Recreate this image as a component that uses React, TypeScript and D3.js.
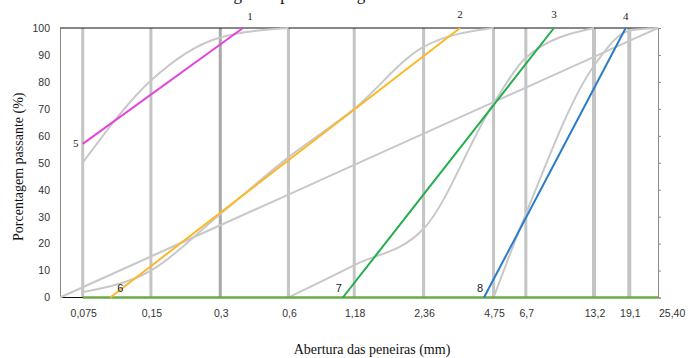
import React, { useEffect, useRef } from "react";
import * as d3 from "d3";

// sieve openings (mm), as printed under the chart
const sieves = ["0,075", "0,15", "0,3", "0,6", "1,18", "2,36", "4,75", "6,7", "13,2", "19,1", "25,40"];
// reference grading (% passing) - in a Rothfuchs diagram this fixes each sieve's place on the x axis
const referencePassing = [3.8, 15.2, 26.8, 38.2, 49.2, 60.8, 72.5, 77.9, 89.3, 95.2, 100];
const yTicks = [0, 10, 20, 30, 40, 50, 60, 70, 80, 90, 100];

// grading curves of the four aggregates (% passing per sieve, null = not plotted)
const material1 = [50, 80.5, 96.5, 100, null, null, null, null, null, null, null];
const material2 = [2, 10, 31, 52, 70, 93, 100, null, null, null, null];
const material3 = [null, null, null, 0, 12, 25.5, 72, 89, 100, null, null];
const material4 = [null, null, null, null, null, null, 0, 31, 86, 99, 100];

// balance lines: start / end on the reference axis (%), with their passing values
const balanceLines = [
  { key: "1", start: "5", x0: 3.8, y0: 57, x1: 30.6, y1: 100, color: "#e444dc" },
  { key: "2", start: "6", x0: 8.4, y0: 0, x1: 66.9, y1: 100, color: "#fbb928" },
  { key: "3", start: "7", x0: 47.3, y0: 0, x1: 82.6, y1: 100, color: "#22ad4e" },
  { key: "4", start: "8", x0: 70.9, y0: 0, x1: 94.6, y1: 100, color: "#2a7bc8" },
];

const W = 689;
const H = 358;
const margin = { top: 28, right: 31, bottom: 60.5, left: 60 };

const App = () => {
  const svgRef = useRef<SVGSVGElement>(null);

  useEffect(() => {
    const svg = d3.select(svgRef.current);
    svg.selectAll("*").remove();

    const x = d3.scaleLinear().domain([0, 100]).range([margin.left, W - margin.right]);
    const y = d3.scaleLinear().domain([0, 100]).range([H - margin.bottom, margin.top]);

    // title (cut off at the top of the figure, as in the scan)
    svg.append("text")
      .attr("x", 209)
      .attr("y", 0)
      .attr("font-family", "Liberation Serif, Times New Roman, serif")
      .attr("font-size", 17)
      .attr("fill", "#111")
      .text("Diagrama para a dosagem");

    // sieve lines
    svg.append("g")
      .selectAll("line")
      .data(sieves.slice(0, -1))
      .join("line")
      .attr("x1", (d, i) => x(referencePassing[i]))
      .attr("x2", (d, i) => x(referencePassing[i]))
      .attr("y1", y(100))
      .attr("y2", y(0))
      .attr("stroke", d => (d === "0,3" ? "#a8a8a8" : "#c4c4c4"))
      .attr("stroke-width", d => (d === "13,2" || d === "19,1" ? 4 : 3));

    // left axis
    const yAxis = svg.append("g")
      .attr("transform", `translate(${margin.left},0)`)
      .call(d3.axisLeft(y).tickValues(yTicks).tickSize(0).tickPadding(10));
    yAxis.select(".domain").attr("stroke", "#8a8a8a");
    yAxis.selectAll("text")
      .attr("font-family", "Liberation Sans, Arial, sans-serif")
      .attr("font-size", 10.5)
      .attr("fill", "#333");

    // right axis (ticks only)
    const rAxis = svg.append("g")
      .attr("transform", `translate(${W - margin.right},0)`)
      .call(d3.axisRight(y).tickValues(yTicks).tickSize(3).tickFormat(() => ""));
    rAxis.select(".domain").attr("stroke", "#8a8a8a");
    rAxis.selectAll("line").attr("stroke", "#8a8a8a");

    // top border
    svg.append("line")
      .attr("x1", x(0)).attr("x2", x(100))
      .attr("y1", y(100)).attr("y2", y(100))
      .attr("stroke", "#111").attr("stroke-width", 1);

    // bottom axis
    svg.append("line")
      .attr("x1", x(0)).attr("x2", x(100))
      .attr("y1", y(0)).attr("y2", y(0))
      .attr("stroke", "#111").attr("stroke-width", 1);

    svg.append("g")
      .selectAll("text")
      .data(sieves)
      .join("text")
      .attr("x", (d, i) => x(referencePassing[i]) + 1)
      .attr("y", 317)
      .attr("text-anchor", (d, i) => (i === sieves.length - 1 ? "start" : "middle"))
      .attr("font-family", "Liberation Sans, Arial, sans-serif")
      .attr("font-size", 10.5)
      .attr("fill", "#333")
      .text(d => d);

    // grading curves
    const curveLine = d3.line<[number, number | null]>()
      .defined(d => d[1] !== null)
      .x(d => x(d[0]))
      .y(d => y(d[1] as number))
      .curve(d3.curveMonotoneX);

    const curves = [material1, material2, material3, material4].map(m =>
      m.map((v, i) => [referencePassing[i], v] as [number, number | null])
    );
    svg.append("g")
      .selectAll("path")
      .data(curves)
      .join("path")
      .attr("d", d => curveLine(d))
      .attr("fill", "none")
      .attr("stroke", "#c8c8c8")
      .attr("stroke-width", 2);

    // reference grading (straight diagonal)
    svg.append("path")
      .attr("d", d3.line<number>().x(d => x(d)).y(d => y(d))([0, ...referencePassing]))
      .attr("fill", "none")
      .attr("stroke", "#c8c8c8")
      .attr("stroke-width", 2);

    // green base line from the first sieve
    svg.append("line")
      .attr("x1", x(referencePassing[0])).attr("x2", x(100))
      .attr("y1", y(0)).attr("y2", y(0))
      .attr("stroke", "#6aab45").attr("stroke-width", 2.5);

    // balance lines
    svg.append("g")
      .selectAll("line")
      .data(balanceLines)
      .join("line")
      .attr("x1", d => x(d.x0)).attr("y1", d => y(d.y0))
      .attr("x2", d => x(d.x1)).attr("y2", d => y(d.y1))
      .attr("stroke", d => d.color)
      .attr("stroke-width", 2);

    // numbers at the line ends
    svg.append("g")
      .selectAll("text")
      .data(balanceLines)
      .join("text")
      .attr("x", d => x(d.x1) + (d.key === "1" ? 7 : 0))
      .attr("y", d => y(d.y1) - (d.key === "1" || d.key === "4" ? 8 : 10))
      .attr("text-anchor", "middle")
      .attr("font-family", "Liberation Serif, Times New Roman, serif")
      .attr("font-size", 11)
      .attr("fill", "#222")
      .text(d => d.key);

    svg.append("g")
      .selectAll("text")
      .data(balanceLines)
      .join("text")
      .attr("x", d => x(d.x0) + (d.start === "5" ? -7 : d.start === "6" ? 10 : -4))
      .attr("y", d => (d.start === "5" ? y(d.y0) + 3 : y(d.y0) - 6))
      .attr("text-anchor", "middle")
      .attr("font-family", d => (d.start === "5"
        ? "Liberation Serif, Times New Roman, serif"
        : "Liberation Sans, Arial, sans-serif"))
      .attr("font-size", 11)
      .attr("fill", "#222")
      .text(d => d.start);

    // axis titles
    svg.append("text")
      .attr("transform", `translate(23,${(margin.top + H - margin.bottom) / 2 + 4}) rotate(-90)`)
      .attr("text-anchor", "middle")
      .attr("font-family", "Liberation Serif, Times New Roman, serif")
      .attr("font-size", 14)
      .attr("fill", "#111")
      .text("Porcentagem passante (%)");

    svg.append("text")
      .attr("x", 372)
      .attr("y", 354)
      .attr("text-anchor", "middle")
      .attr("font-family", "Liberation Serif, Times New Roman, serif")
      .attr("font-size", 14)
      .attr("fill", "#111")
      .text("Abertura das peneiras (mm)");
  }, []);

  return (
    <svg
      ref={svgRef}
      width={W}
      height={H}
      style={{ position: "absolute", left: 0, top: 0, background: "#fff" }}
    />
  );
};

export default App;
